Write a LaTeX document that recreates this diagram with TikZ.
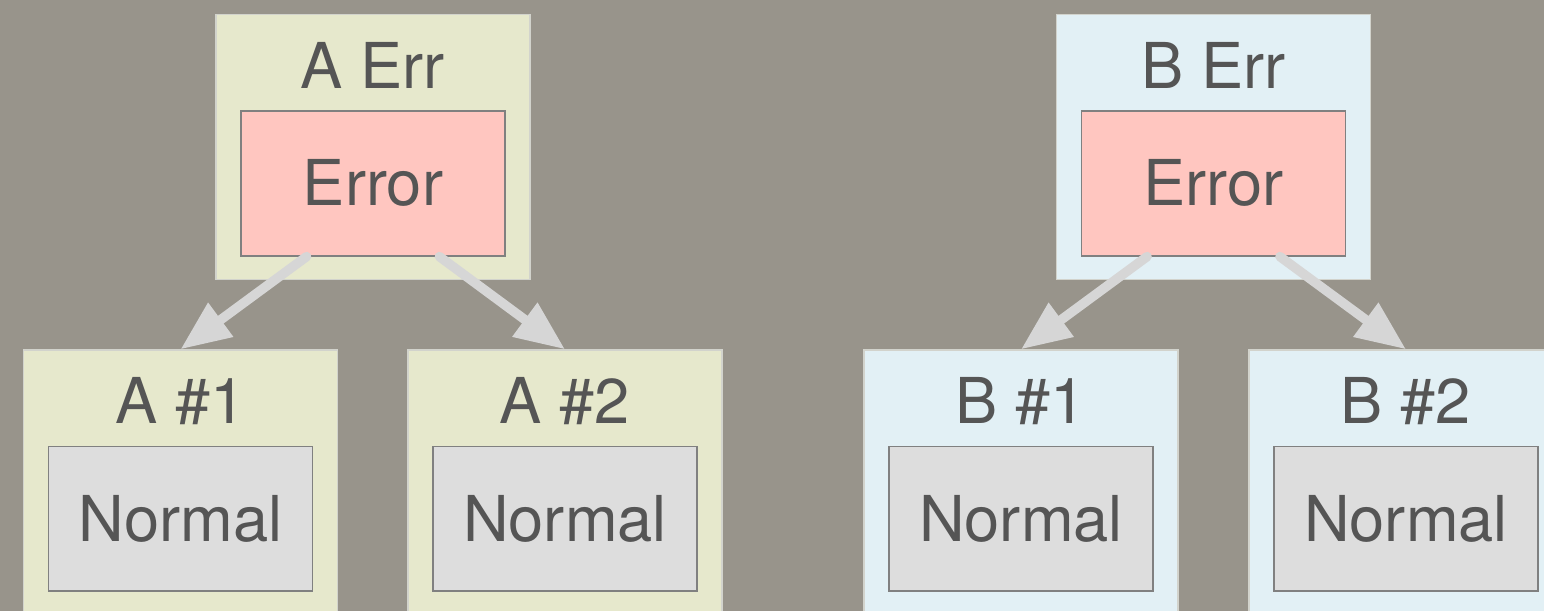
\documentclass[tikz,border=0pt]{standalone}
\usepackage{fontspec}
\setmainfont{TeX Gyre Heros}
\usetikzlibrary{arrows.meta, positioning, calc}

\definecolor{bgtone}{RGB}{152,148,139}
\definecolor{fillA}{RGB}{230,232,204}
\definecolor{fillB}{RGB}{226,240,245}
\definecolor{edgeout}{RGB}{210,211,204}
\definecolor{errfill}{RGB}{255,198,192}
\definecolor{normfill}{RGB}{221,221,221}
\definecolor{edgein}{RGB}{128,128,128}
\definecolor{inkgray}{RGB}{85,85,85}
\definecolor{linkgray}{RGB}{214,214,214}

\begin{document}
\begin{tikzpicture}[x=0.02cm, y=-0.02cm,
    grpA/.style={rectangle, draw=edgeout, fill=fillA, line width=0.8pt, minimum width=6.28cm, minimum height=5.3cm},
    grpB/.style={grpA, fill=fillB},
    lbl/.style={text=inkgray, inner sep=0pt, font=\fontsize{36}{42}\selectfont, text height=25.8pt, text depth=0pt},
    errbox/.style={lbl, rectangle, draw=edgein, fill=errfill, line width=0.9pt, minimum width=5.28cm, minimum height=2.9cm},
    normbox/.style={errbox, fill=normfill},
    link/.style={draw=linkgray, line width=5.4pt, line cap=round, -{Triangle[length=1.0cm, width=0.8cm]}}
]
    % Background
    \fill[bgtone, use as bounding box] (0,0) rectangle (1544,611);
    \clip (0,0) rectangle (1544,611);

    % Error groups (top)
    \foreach \g/\xx in {A/373, B/1213.5} {
        \node[grp\g] (err\g) at (\xx, 147) {};
        \node[lbl] (terr\g) at ([yshift=-1.04cm]err\g.north) {\g\ Err};
        \node[errbox] (e\g) at ([yshift=-3.39cm]err\g.north) {Error};
    }

    % Normal groups (bottom)
    \foreach \g/\n/\xx in {A/1/180.5, A/2/565, B/1/1021, B/2/1406} {
        \node[grp\g] (\g\n) at (\xx, 482.5) {};
        \node[lbl] (t\g\n) at ([yshift=-1.04cm]\g\n.north) {\g\ \#\n};
        \node[normbox] (n\g\n) at ([yshift=-3.39cm]\g\n.north) {Normal};
    }

    % Links
    \foreach \g in {A,B} {
        \draw[link] ($(e\g.south)!0.5!(e\g.south west)$) -- (\g1.north);
        \draw[link] ($(e\g.south)!0.5!(e\g.south east)$) -- (\g2.north);
    }
\end{tikzpicture}
\end{document}
